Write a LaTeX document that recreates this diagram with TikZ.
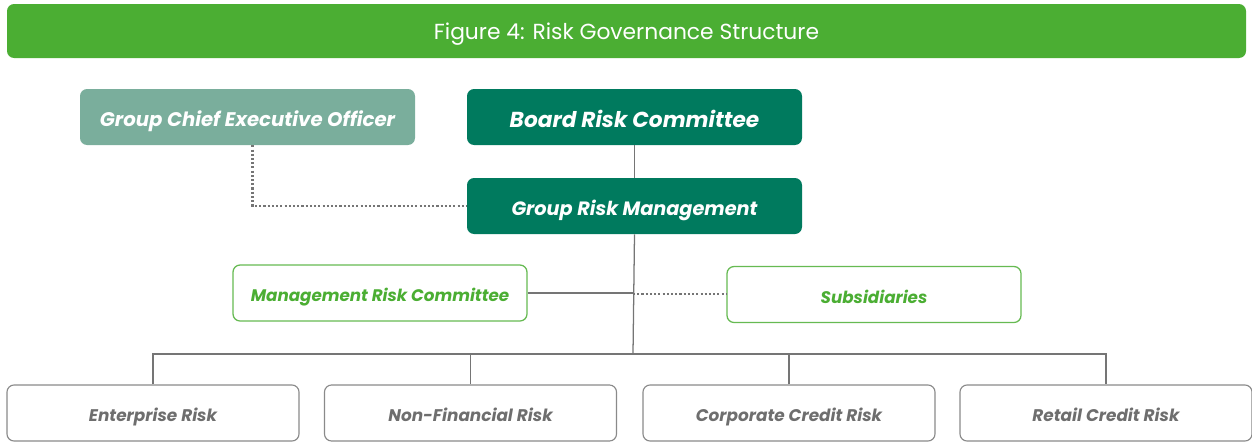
\documentclass[tikz,border=0pt]{standalone}
\usepackage{fontspec}
\setmainfont{Poppins}
\usepackage{xcolor}
\usepackage{tikz}
\usetikzlibrary{positioning,calc}
\definecolor{rgGreen}{HTML}{4BAE33}
\definecolor{rgDark}{HTML}{007A5E}
\definecolor{rgSage}{HTML}{7AAE9C}
\definecolor{rgGrey}{HTML}{6E6E6E}
\definecolor{rgLine}{HTML}{757575}
\newcommand{\fs}[1]{\fontsize{#1}{#1}\selectfont}

\begin{document}
\begin{tikzpicture}[x=0.025cm, y=-0.025cm,
  box/.style={rounded corners=5pt,minimum height=56*0.025cm,inner sep=0pt,text depth=0pt},
  dark/.style={box,fill=rgDark,text=white,minimum width=335*0.025cm},
  sage/.style={box,fill=rgSage,text=white,minimum width=335*0.025cm,text height=13.6pt,font=\fs{14}\bfseries\itshape},
  mid/.style={box,draw=rgGreen!85,line width=0.9pt,fill=white,text=rgGreen,minimum width=294*0.025cm,text height=12.2pt,font=\fs{11.9}\bfseries\itshape},
  leaf/.style={box,draw=rgLine!85,line width=0.8pt,fill=white,text=rgGrey,minimum width=292*0.025cm,text height=12.4pt,font=\fs{12}\bfseries\itshape},
  link/.style={rgLine,line width=0.9pt},
  dots/.style={rgLine,line width=1.5pt,dash pattern=on 1.5pt off 1.5pt}]
\useasboundingbox (0,0) rectangle (1252,443);
% --- title bar ---
  \node[fill=rgGreen,text=white,rounded corners=5pt,minimum width=1239*0.025cm,minimum height=54*0.025cm,
    inner sep=0pt,text height=12.6pt,text depth=0pt,font=\fs{15.5}] (title) at (626.5,31) {Figure 4: Risk Governance Structure};
% --- top level ---
  \node[sage] (gceo) at (247.5,117) {Group Chief Executive Officer};
  \node[dark,text height=14.8pt,font=\fs{15.4}\bfseries\itshape] (brc) at (634.5,117) {Board Risk Committee};
  \node[dark,text height=13.4pt,font=\fs{13.7}\bfseries\itshape] (grm) at (634.5,206) {Group Risk Management};
  \node[mid] (mrc) at (380,293) {Management Risk Committee};
  \node[mid] (sub) at (874,294.5) {Subsidiaries};
% --- risk areas ---
  \node[leaf] (ent) at (153,413) {Enterprise Risk};
  \node[leaf] (nfr) at (470.5,413) {Non-Financial Risk};
  \node[leaf] (ccr) at (789,413) {Corporate Credit Risk};
  \node[leaf] (rcr) at (1106,413) {Retail Credit Risk};
  \coordinate (bus) at (633,354);
  \coordinate (tee) at (633,294);
% --- connectors ---
  \draw[link] (brc) -- (grm);
  \draw[link] (grm.south) -- (bus);
  \draw[link] (mrc.east) -- (mrc.east -| tee);
  \draw[dots] (tee) -- (sub.west |- tee);
  \draw[dots] ([xshift=5*0.025cm]gceo.south) |- (grm.west);
  \draw[link] (ent.north) |- (bus) -| (rcr.north);
  \draw[link] (nfr.north) -- (nfr.north |- bus);
  \draw[link] (ccr.north) -- (ccr.north |- bus);
\end{tikzpicture}
\end{document}
